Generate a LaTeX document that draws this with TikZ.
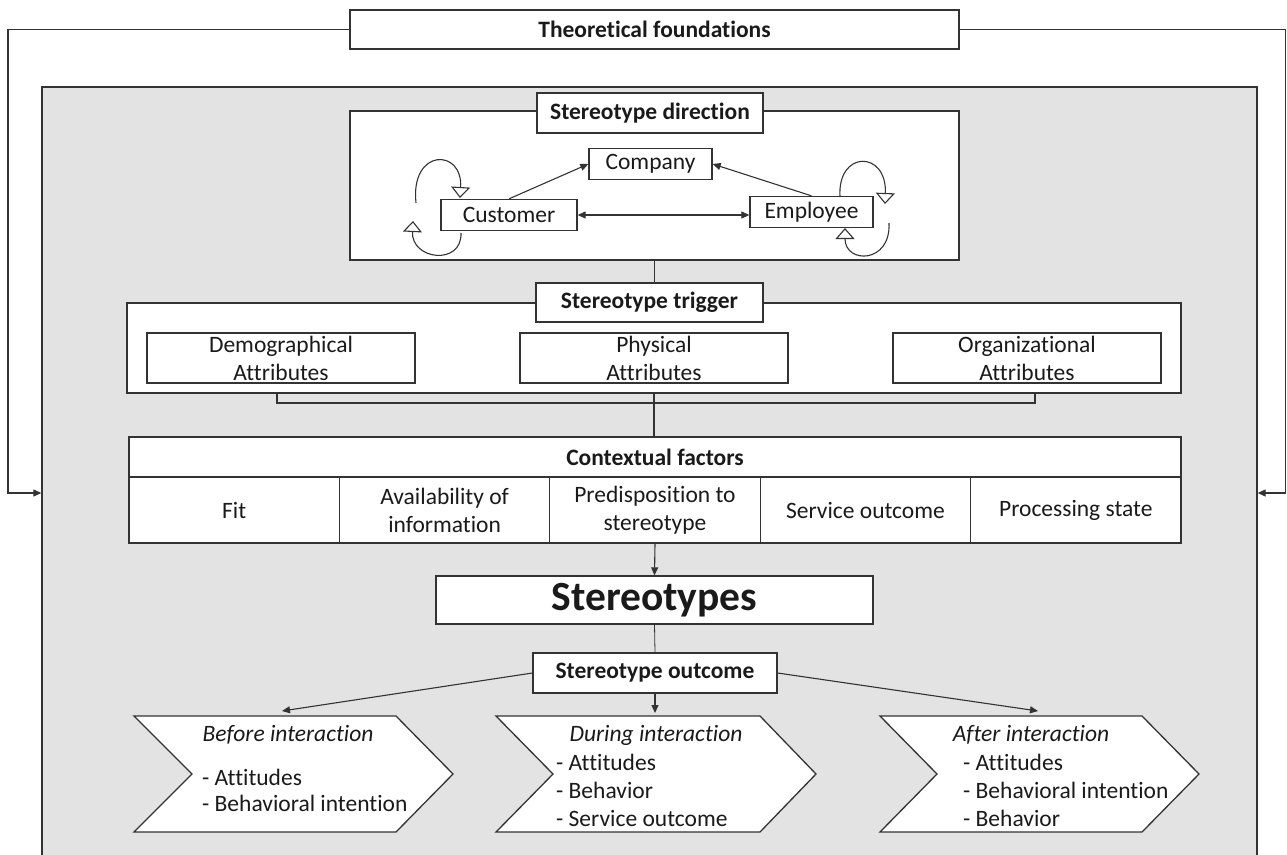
\documentclass[tikz,border=0pt]{standalone}
\usepackage{fontspec}
\setmainfont{Carlito}[Ligatures=NoCommon]
\usetikzlibrary{arrows.meta}
\definecolor{linec}{HTML}{333333}
\definecolor{bgray}{HTML}{E3E3E3}
\definecolor{txt}{HTML}{1A1A1A}
\begin{document}
\begin{tikzpicture}[x=1pt,y=-1pt,
  every node/.style={text=txt, font=\fontsize{23.5}{28}\selectfont},
  bx/.style={draw=linec, fill=white, line width=1.3pt, inner sep=0pt, align=center},
  hd/.style={bx, font=\fontsize{23.5}{28}\selectfont\bfseries},
  conn/.style={draw=linec, line width=1.1pt},
  arr/.style={conn, -{Triangle[length=8pt,width=7pt]}},
  darr/.style={conn, {Triangle[length=8pt,width=7pt]}-{Triangle[length=8pt,width=7pt]}},
  selfloop/.style={conn, -{Triangle[open,length=11pt,width=19pt,fill=white]}},
  chev/.style={draw=linec, fill=white, line width=1.3pt, line join=miter},
  lst/.style={anchor=base west, inner sep=0pt},
  ttl/.style={anchor=base, inner sep=0pt, font=\fontsize{23.5}{28}\selectfont\itshape},
]
\useasboundingbox (0,0) rectangle (1287,854);
\fill[white] (0,0) rectangle (1287,854);

% gray frame
\node[bx, fill=bgray, minimum width=1215pt, minimum height=812pt] (frame) at (649.5,493) {};

% theoretical foundations
\node[hd, minimum width=609pt, minimum height=39pt] (tf) at (654.5,29.5) {Theoretical foundations};
\coordinate (lc) at (8,29.5);
\coordinate (rc) at (1285.5,29.5);
\draw[arr] (tf.west) -- (lc) |- (frame.west);
\draw[arr] (tf.east) -- (rc) |- (frame.east);

% stereotype direction
\node[bx, minimum width=609pt, minimum height=149pt] (sdbox) at (654.5,185.5) {};
\node[hd, minimum width=226pt, minimum height=40pt] (sdtitle) at (650,113) {Stereotype direction};
\node[bx, minimum width=123pt, minimum height=31pt] (company) at (650.5,164) {Company};
\node[bx, minimum width=136pt, minimum height=31pt] (customer) at (509,215) {Customer};
\node[bx, minimum width=123pt, minimum height=31pt] (employee) at (811.5,212) {Employee};
\draw[arr] (customer.north) -- (company.west);
\draw[arr] (employee.north) -- (company.east);
\draw[darr] (customer.east) -- (customer.east -| employee.west);

\coordinate (cu1) at (416,203);
\coordinate (cu2) at (460,198);
\coordinate (cl1) at (461,233);
\coordinate (cl2) at (413,221);
\coordinate (eu1) at (840,197);
\coordinate (eu2) at (885,204);
\coordinate (el1) at (889,223);
\coordinate (el2) at (845,228);
\draw[selfloop] (cu1) .. controls (410,148) and (463,148) .. (cu2);
\draw[selfloop] (cl1) .. controls (462,266) and (411,260) .. (cl2);
\draw[selfloop] (eu1) .. controls (837,150) and (887,150) .. (eu2);
\draw[selfloop] (el1) .. controls (891,264) and (845,264) .. (el2);

% stereotype trigger
\node[bx, minimum width=1054pt, minimum height=90pt] (trig) at (654,348) {};
\node[hd, minimum width=227pt, minimum height=39pt] (trigtitle) at (649.5,302.5) {Stereotype trigger};
\draw[conn] (sdbox.south) -- (sdbox.south |- trigtitle.north);
\node[bx, minimum width=268pt, minimum height=50pt] (demo) at (281,358) {Demographical\\Attributes};
\node[bx, minimum width=268pt, minimum height=50pt] (phys) at (654,358) {Physical\\Attributes};
\node[bx, minimum width=268pt, minimum height=50pt] (org) at (1027,358) {Organizational\\Attributes};
\coordinate (bl) at (277,393);
\coordinate (br) at (1035,393);
\draw[conn] (bl) -- ++(0,10) -| (br);

% contextual factors
\node[hd, minimum width=1052pt, minimum height=40pt] (ctxhead) at (655,457) {Contextual factors};
\draw[conn] (trig.south) -- (trig.south |- ctxhead.north);
\node[bx, minimum width=210.4pt, minimum height=66pt] (c1) at (234.2,510) {Fit};
\node[bx, minimum width=210.4pt, minimum height=66pt] (c2) at (444.6,510) {Availability of\\information};
\node[bx, minimum width=210.4pt, minimum height=66pt] (c3) at (655,510) {Predisposition to\\stereotype};
\node[bx, minimum width=210.4pt, minimum height=66pt] (c4) at (865.4,510) {Service outcome};
\node[bx, minimum width=210.4pt, minimum height=66pt] (c5) at (1075.8,510) {Processing state};

% stereotypes
\node[bx, minimum width=437pt, minimum height=48pt, font=\fontsize{41.5}{48}\selectfont\bfseries] (stereo) at (654.5,600) {Stereotypes};
\draw[arr] (c3.south) -- (stereo.north);
\node[hd, minimum width=244pt, minimum height=40pt] (outcome) at (655,673) {Stereotype outcome};
\draw[conn, line width=0.8pt] (stereo.south) -- (outcome.north);

% chevrons
\draw[chev] (134,716) -- (396,716) -- (453,774) -- (396,832) -- (134,832) -- (192,774) -- cycle;
\draw[chev] (496,716) -- (760,716) -- (816,774) -- (760,832) -- (496,832) -- (553,774) -- cycle;
\draw[chev] (880,716) -- (1142,716) -- (1199,774) -- (1142,832) -- (880,832) -- (937,774) -- cycle;
\coordinate (bt) at (282,711);
\coordinate (dt) at (655,713);
\coordinate (at) at (1038,711);
\draw[arr] (outcome.west) -- (bt);
\draw[arr] (outcome.south) -- (dt);
\draw[arr] (outcome.east) -- (at);

\node[ttl] (b0) at (288,741) {Before interaction};
\node[lst] (b1) at (202,785) {- Attitudes};
\node[lst] (b2) at (202,811) {- Behavioral intention};

\node[ttl] (d0) at (656,741) {During interaction};
\node[lst] (d1) at (556,770) {- Attitudes};
\node[lst] (d2) at (556,798) {- Behavior};
\node[lst] (d3) at (556,826) {- Service outcome};

\node[ttl] (a0) at (1031,741) {After interaction};
\node[lst] (a1) at (963,770) {- Attitudes};
\node[lst] (a2) at (963,798) {- Behavioral intention};
\node[lst] (a3) at (963,826) {- Behavior};
\end{tikzpicture}
\end{document}
